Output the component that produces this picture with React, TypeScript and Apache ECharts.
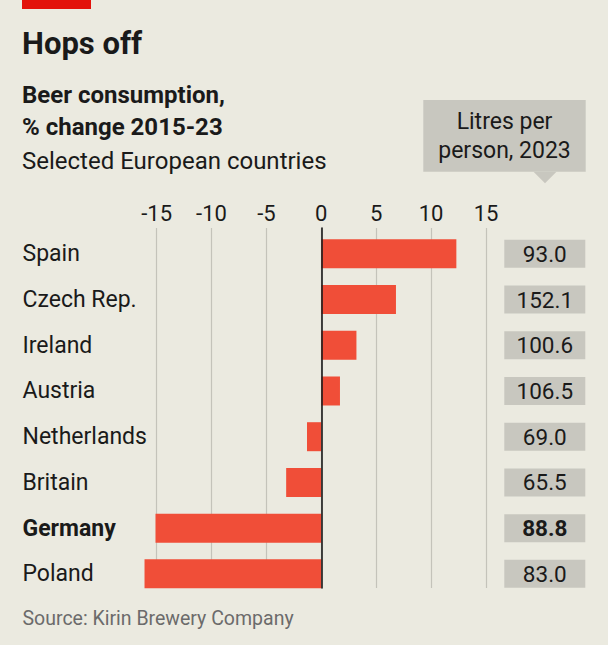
import React, { useEffect, useRef } from "react";
import * as echarts from "echarts";

const countries = ["Spain", "Czech Rep.", "Ireland", "Austria", "Netherlands", "Britain", "Germany", "Poland"];
const changePct = [12.3, 6.8, 3.2, 1.7, -1.3, -3.2, -15.1, -16.1];
const litresPerPerson = ["93.0", "152.1", "100.6", "106.5", "69.0", "65.5", "88.8", "83.0"];
const highlighted = "Germany";
const axisMin = -15;
const axisMax = 15;
const axisStep = 5;
const barMin = -17;

const FONT = "Roboto, 'Noto Sans', sans-serif";
const BG = "#ebeae0";
const INK = "#1a1a1a";

export default function App() {
  const ref = useRef<HTMLDivElement>(null);
  useEffect(() => {
    document.body.style.margin = "0";
    if (!ref.current) return;
    const chart = echarts.init(ref.current, null, { renderer: "svg" });
    const unit = 10.98;
    const zeroX = 321.3;
    const mainLeft = zeroX + barMin * unit;
    const mainWidth = (axisMax - barMin) * unit;
    const gLeft = zeroX + axisMin * unit;
    const gWidth = (axisMax - axisMin) * unit;
    const boxStyle = { width: 81, height: 28, lineHeight: 28, align: "center", backgroundColor: "#c8c7bf", fontSize: 22.5, color: INK, fontFamily: FONT };

    chart.setOption({
      animation: false,
      backgroundColor: BG,
      textStyle: { fontFamily: FONT },
      grid: [
        { left: mainLeft, width: mainWidth, top: 231, height: 365.7 },
        { left: gLeft, width: gWidth, top: 228, height: 360 },
      ],
      xAxis: [
        { type: "value", gridIndex: 0, min: barMin, max: axisMax, show: false },
        {
          type: "value",
          gridIndex: 1,
          min: axisMin,
          max: axisMax,
          interval: axisStep,
          position: "top",
          axisLine: { show: false },
          axisTick: { show: false },
          axisLabel: { fontSize: 22, color: INK, margin: 4, fontFamily: FONT },
          splitLine: { show: true, lineStyle: { color: "#c4c3ba", width: 1.2 } },
        },
      ],
      yAxis: [
        {
          type: "category",
          gridIndex: 0,
          data: countries,
          inverse: true,
          axisLine: { show: false },
          axisTick: { show: false },
          axisLabel: {
            align: "left",
            margin: mainLeft - 22.5,
            formatter: (v: string) => (v === highlighted ? `{b|${v}}` : `{n|${v}}`),
            rich: {
              n: { fontSize: 23, color: INK, fontFamily: FONT },
              b: { fontSize: 23, color: INK, fontWeight: "bold", fontFamily: FONT },
            },
          },
        },
        {
          type: "category",
          gridIndex: 0,
          data: countries,
          inverse: true,
          position: "right",
          axisLine: { show: false },
          axisTick: { show: false },
          axisLabel: {
            align: "left",
            margin: 504.3 - (mainLeft + mainWidth),
            formatter: (v: string, i: number) =>
              v === highlighted ? `{b|${litresPerPerson[i]}}` : `{n|${litresPerPerson[i]}}`,
            rich: {
              n: boxStyle,
              b: { ...boxStyle, fontWeight: "bold" },
            },
          },
        },
        {
          type: "value",
          gridIndex: 1,
          min: 0,
          max: 1,
          z: 10,
          axisLabel: { show: false },
          axisTick: { show: false },
          splitLine: { show: false },
          axisLine: { show: true, onZero: true, lineStyle: { color: INK, width: 1.6 } },
        },
      ],
      series: [
        {
          type: "bar",
          xAxisIndex: 0,
          yAxisIndex: 0,
          data: changePct,
          barWidth: 29,
          itemStyle: { color: "#f04e38" },
        },
      ],
      graphic: [
        { type: "rect", left: 22, top: 0, shape: { width: 69, height: 9 }, style: { fill: "#e3120b" } },
        { type: "text", x: 22, y: 43.5, style: { text: "Hops off", font: `bold 31px ${FONT}`, fill: INK, verticalAlign: "middle" } },
        { type: "text", x: 22, y: 95, style: { text: "Beer consumption,", font: `bold 24px ${FONT}`, fill: INK, verticalAlign: "middle" } },
        { type: "text", x: 22, y: 127, style: { text: "% change 2015-23", font: `bold 24px ${FONT}`, fill: INK, verticalAlign: "middle" } },
        { type: "text", x: 22, y: 160.5, style: { text: "Selected European countries", font: `24px ${FONT}`, fill: INK, verticalAlign: "middle" } },
        { type: "rect", shape: { x: 423.3, y: 100, width: 162.4, height: 71.7 }, style: { fill: "#c8c7bf" } },
        { type: "polygon", shape: { points: [[533.5, 171.7], [556.5, 171.7], [545, 183.3]] }, style: { fill: "#c8c7bf" } },
        { type: "text", x: 504.5, y: 121.7, style: { text: "Litres per", font: `23px ${FONT}`, fill: INK, align: "center", verticalAlign: "middle" } },
        { type: "text", x: 504.5, y: 150, style: { text: "person, 2023", font: `23px ${FONT}`, fill: INK, align: "center", verticalAlign: "middle" } },
        { type: "text", x: 22.5, y: 618, style: { text: "Source: Kirin Brewery Company", font: `19.5px ${FONT}`, fill: "#6b6b6b", verticalAlign: "middle" } },
      ],
    });
    return () => chart.dispose();
  }, []);
  return <div ref={ref} style={{ width: 608, height: 645 }} />;
}
